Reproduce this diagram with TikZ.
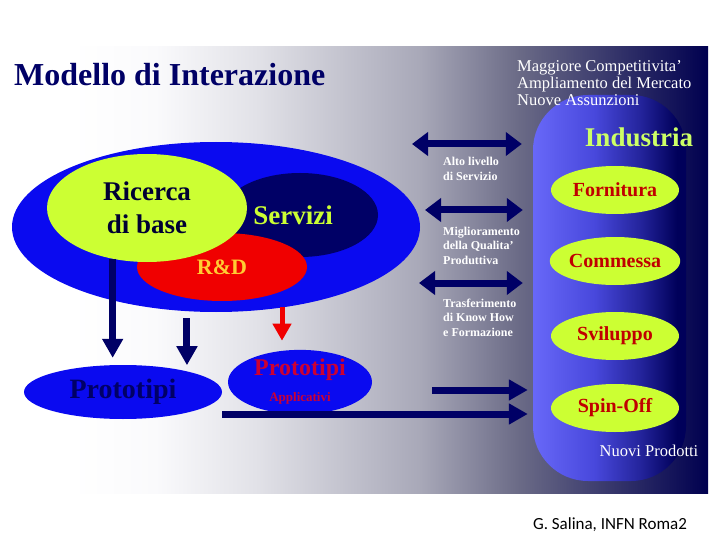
\documentclass[tikz,border=0pt]{standalone}
\usepackage{fontspec}
\setmainfont{Liberation Serif}
\newfontfamily\calibri{Carlito}
\usetikzlibrary{arrows.meta,shapes.geometric,calc}

\definecolor{bgwhite}{HTML}{FAFAFC}
\definecolor{bgpale}{HTML}{E2E2E8}
\definecolor{bggrey}{HTML}{A8A8B8}
\definecolor{bgslate}{HTML}{6A6A86}
\definecolor{bgnavy}{HTML}{00004F}
\definecolor{cyllight}{HTML}{6868F8}
\definecolor{cylmid}{HTML}{4848DC}
\definecolor{cyldeep}{HTML}{24249C}
\definecolor{cylnavy}{HTML}{00005A}

\pgfdeclarehorizontalshading{bgsweep}{100bp}{color(0bp)=(white); color(30bp)=(white);
  color(36bp)=(bgwhite); color(43bp)=(bgpale); color(54.7bp)=(bggrey); color(61.7bp)=(bgslate);
  color(75bp)=(bgnavy); color(100bp)=(bgnavy)}
\pgfdeclarehorizontalshading{cylsweep}{100bp}{color(0bp)=(cyllight); color(25bp)=(cyllight);
  color(45bp)=(cylmid); color(60bp)=(cyldeep); color(72bp)=(cylnavy); color(100bp)=(cylnavy)}

\begin{document}
\begin{tikzpicture}[
    x=1pt, y=-1pt,
    every node/.style={inner sep=0pt},
    blob/.style={ellipse, inner sep=0pt, align=center},
    navyarrow/.style={navy, line width=7pt, -{Triangle[length=19pt,width=20pt]}},
    twoway/.style={navy, line width=7pt,
      {Triangle[length=16pt,width=23pt]}-{Triangle[length=16pt,width=23pt]}},
    redarrow/.style={rdred, line width=5pt, -{Triangle[length=17pt,width=18pt]}},
    whitelabel/.style={anchor=north west, align=left, text=white,
      font=\fontsize{12}{14.5}\selectfont\bfseries},
    offer/.style={blob, fill=lime, minimum width=128pt, minimum height=48pt,
      text=offerred, font=\fontsize{20}{22}\selectfont\bfseries},
  ]
    \definecolor{navy}{HTML}{000066}
    \definecolor{inknavy}{HTML}{000033}
    \definecolor{lime}{HTML}{CCFF33}
    \definecolor{indlime}{HTML}{CCFF66}
    \definecolor{rdred}{HTML}{F00000}
    \definecolor{rdgold}{HTML}{FFCC33}
    \definecolor{offerred}{HTML}{C00000}
    \definecolor{apred}{HTML}{CC0033}
    \definecolor{vivid}{HTML}{0A0AF0}

    \useasboundingbox (0,0) rectangle (720,540);

    % ============ background ============
    \shade[shading=bgsweep] (0,47) rectangle (708,493);
    \node[shade, shading=cylsweep, rounded corners=55pt,
      minimum width=153pt, minimum height=386pt] (industria) at (609.5,288) {};

    \node[anchor=west, text=navy, font=\fontsize{32}{34}\selectfont\bfseries]
      (titolo) at (14,75) {Modello di Interazione};
    \node[anchor=north west, align=left, text=white, font=\fontsize{16.5}{17}\selectfont]
      (benefici) at (517,60) {Maggiore Competitivita'\\Ampliamento del Mercato\\Nuove Assunzioni};
    \node[text=indlime, font=\fontsize{27}{30}\selectfont\bfseries]
      (indtitolo) at (639,137) {Industria};

    % ============ ricerca side ============
    \node[blob, fill=vivid, minimum width=408pt, minimum height=170pt] (ente) at (216,227) {};
    \node[blob, fill=navy, minimum width=156pt, minimum height=84pt, text=lime,
      font=\fontsize{27}{30}\selectfont\bfseries] (servizi) at (300,215) {\hspace*{-14pt}Servizi};
    \node[blob, fill=rdred, minimum width=170pt, minimum height=68pt, text=rdgold,
      font=\fontsize{22}{24}\selectfont\bfseries] (rd) at (222,267) {R\&D};
    \node[blob, fill=lime, minimum width=200pt, minimum height=108pt, text=inknavy,
      font=\fontsize{27}{33}\selectfont\bfseries] (ricerca) at (147,208) {Ricerca\\di base};

    \node[blob, fill=vivid, minimum width=198pt, minimum height=54pt, text=navy,
      font=\fontsize{28}{30}\selectfont\bfseries] (proto) at (123,392) {Prototipi};
    \node[blob, fill=vivid, minimum width=144pt, minimum height=52pt, text=apred,
      font=\fontsize{24}{24}\selectfont\bfseries] (app) at (300,382)
      {Prototipi\\[2pt]{\fontsize{13}{14}\selectfont Applicativi}};

    \draw[navyarrow] (ricerca.236) -- ($(ricerca.236 |- proto.north)+(0,-7)$);
    \draw[navyarrow] ($(proto.18 |- ente.south)+(0,6)$) -- ($(proto.18)+(0,-6)$);
    \draw[redarrow] ($(app.north |- ente.south)+(-18,-5)$) -- ($(app.north)+(-18,-9)$);

    % ============ links to industria ============
    \coordinate (altoL) at (412,144);
    \coordinate (miglL) at (425,210);
    \coordinate (trasL) at (419,283);
    \coordinate (spinL) at (432,390);
    \draw[twoway, shorten >=11pt] (altoL) -- (altoL -| industria.west);
    \draw[twoway, shorten >=10pt] (miglL) -- (miglL -| industria.west);
    \draw[twoway, shorten >=10pt] (trasL) -- (trasL -| industria.west);
    \draw[navyarrow, shorten >=5pt] (spinL) -- (spinL -| industria.west);
    \draw[navyarrow, shorten >=5pt] ($(proto.east)+(0,22)$) -- ($(proto.east -| industria.west)+(0,22)$);

    \node[whitelabel] (alto) at (443,157) {Alto livello\\di Servizio};
    \node[whitelabel] (migl) at (443,226.5) {Miglioramento\\della Qualita'\\Produttiva};
    \node[whitelabel] (tras) at (443,298.5) {Trasferimento\\di Know How\\e Formazione};

    % ============ industria ============
    \node[offer] (fornitura) at (615,190) {Fornitura};
    \node[offer] (commessa) at (615,261) {Commessa};
    \node[offer] (sviluppo) at (615,336) {Sviluppo};
    \node[offer] (spinoff) at (615,408) {Spin-Off};
    \node[text=white, font=\fontsize{16.5}{17}\selectfont] (nuovi) at (649,451) {Nuovi Prodotti};

    \node[font=\calibri\fontsize{17}{19}\selectfont] (firma) at (610,525) {G. Salina, INFN Roma2};
\end{tikzpicture}
\end{document}
